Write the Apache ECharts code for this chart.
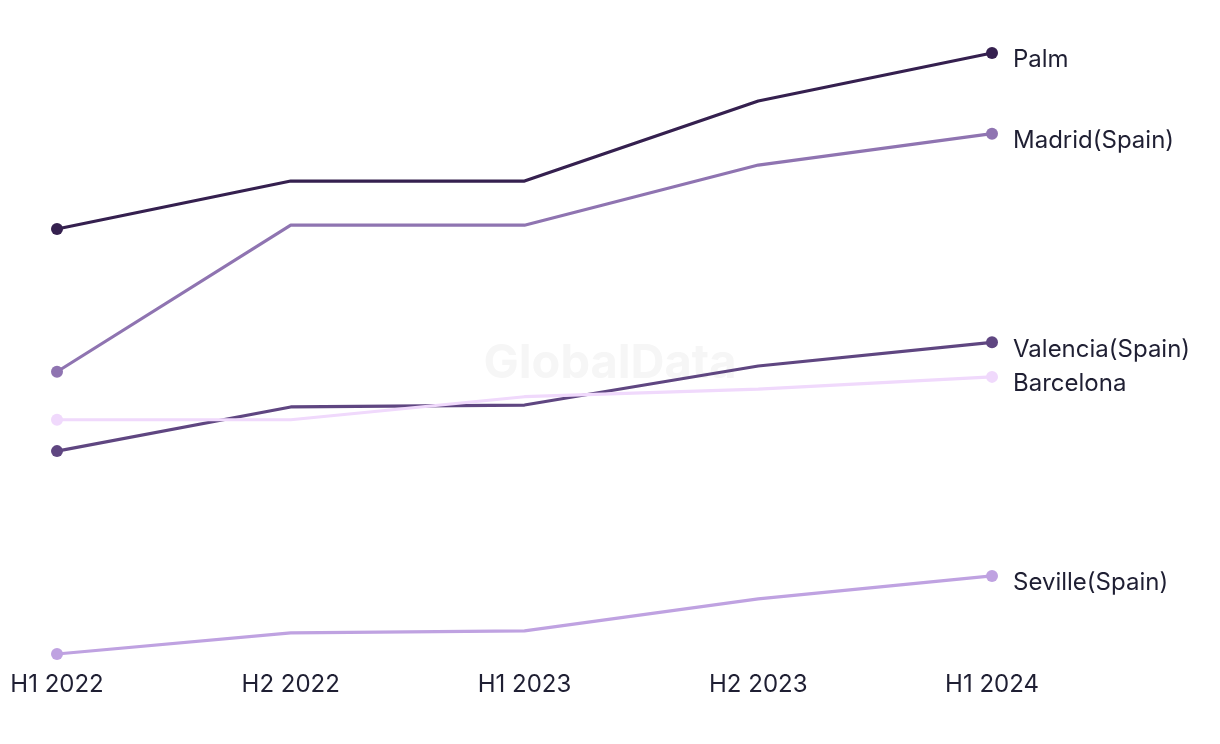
<!DOCTYPE html>
<html><head><meta charset="utf-8">
<script src="https://cdn.jsdelivr.net/npm/echarts@6/dist/echarts.min.js"></script>
<style>html,body{margin:0;padding:0;background:#fff}#c{width:1220px;height:744px}</style>
</head><body><div id="c"></div>
<script>
const categories = ['H1 2022','H2 2022','H1 2023','H2 2023','H1 2024'];
const palm = [68.9, 76.4, 76.4, 88.9, 96.4];
const madrid = [46.6, 69.5, 69.5, 78.9, 83.8];
const valencia = [34.2, 41.1, 41.4, 47.5, 51.2];
const barcelona = [39.1, 39.1, 42.7, 43.9, 45.8];
const seville = [2.5, 5.8, 6.1, 11.1, 14.7];
const seriesNames = ['Palm','Madrid(Spain)','Valencia(Spain)','Barcelona','Seville(Spain)'];
const seriesColors = ['#35204f','#8f74b1','#5f4681','#f0d9fc','#bfa2e1'];
const allData = [palm, madrid, valencia, barcelona, seville];

const chart = echarts.init(document.getElementById('c'));
const font = 'Inter, "Liberation Sans", sans-serif';
chart.setOption({
  animation:false,
  backgroundColor:'#fff',
  grid:{left:57,right:228,top:30,bottom:74},
  graphic:[{type:'text',left:'center',top:340,z:0,style:{text:'GlobalData',font:'bold 47px '+font,fill:'#f6f6f6'},x:-40}],
  xAxis:{type:'category',data:categories,boundaryGap:false,
    axisLine:{show:false},axisTick:{show:false},splitLine:{show:false},
    axisLabel:{color:'#1f1f33',fontSize:24,fontFamily:font,margin:3}},
  yAxis:{type:'value',min:0,max:100,show:false},
  series: allData.map((d,i)=>({
    name:seriesNames[i],type:'line',z:10,
    data:d.map((v,j)=>({value:v,symbol:(j===0||j===d.length-1)?'circle':'none'})),
    symbolSize:12,
    lineStyle:{width:3.2,color:seriesColors[i]},
    itemStyle:{color:seriesColors[i]},
    endLabel:{show:true,formatter:'{a}',color:'#1f1f33',fontSize:24,fontFamily:font,distance:21,offset:[0,7]}
  }))
});
</script></body></html>
